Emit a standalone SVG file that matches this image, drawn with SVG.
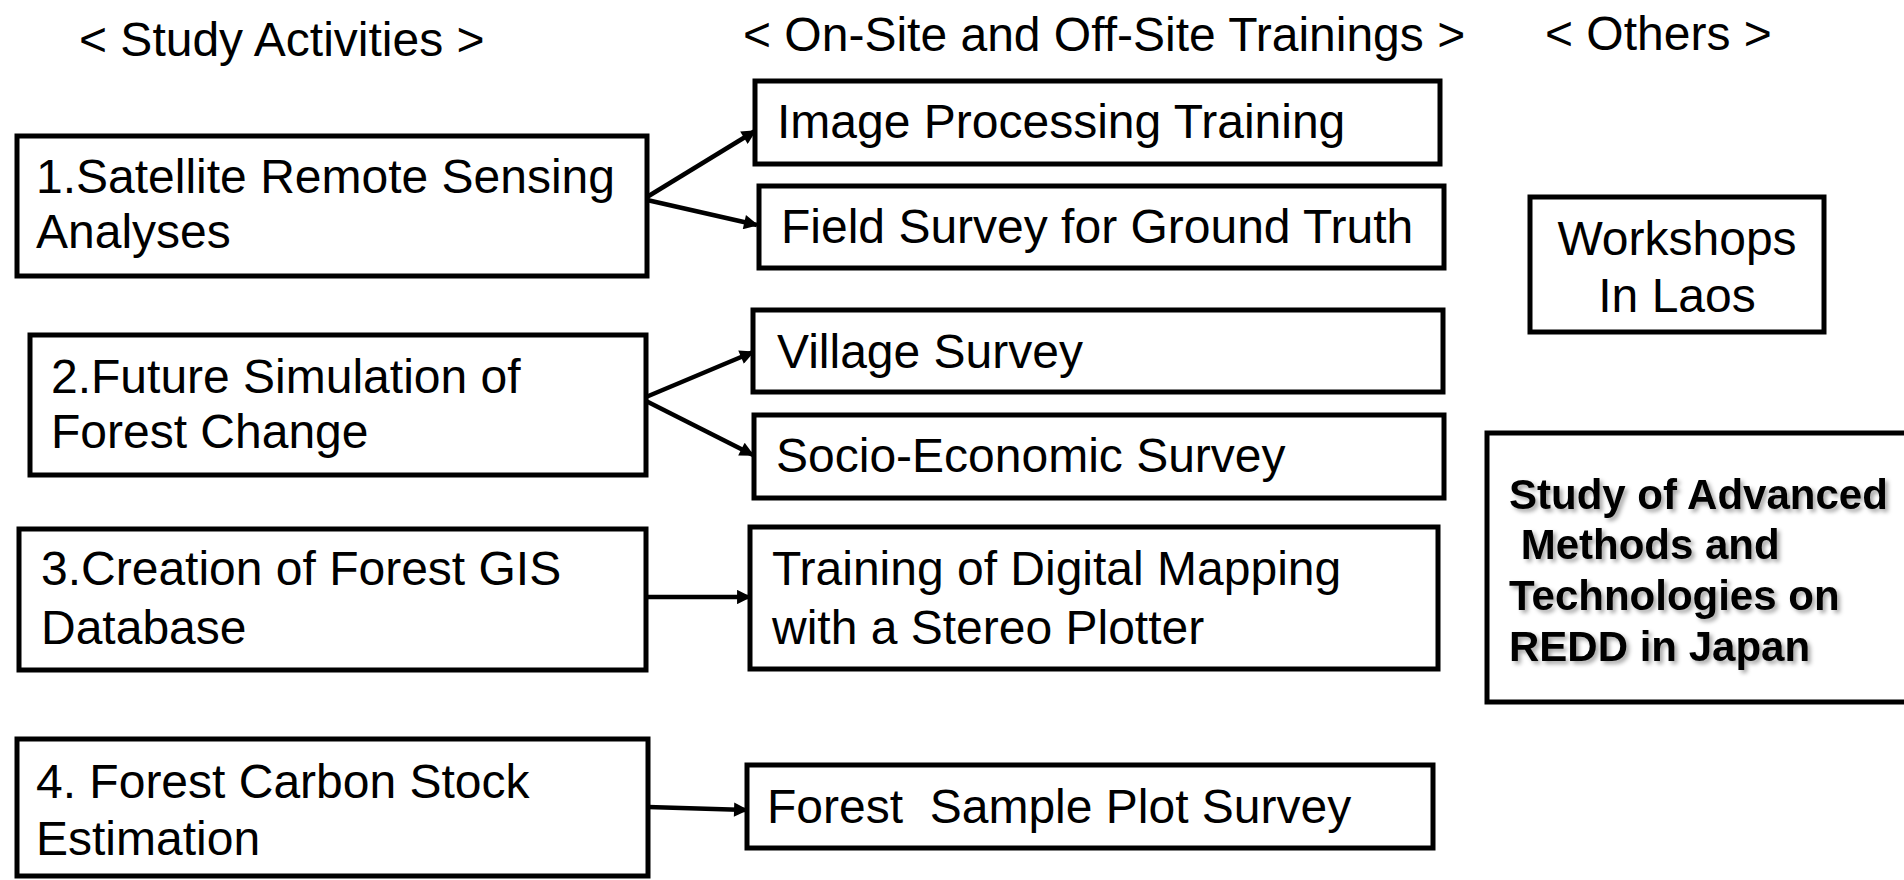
<svg xmlns="http://www.w3.org/2000/svg" width="1904" height="880" viewBox="0 0 1904 880">
<style>
text{font-family:"Liberation Sans",Arial,sans-serif;font-size:48px;fill:#000}
.box{fill:#fff;stroke:#000;stroke-width:5}
.hd{font-size:48px}
.b{font-weight:bold;font-size:42px;filter:url(#sh)}
.c{stroke:#000;stroke-width:4.5;fill:none;marker-end:url(#ah)}
</style>
<defs>
<marker id="ah" viewBox="0 0 10 10" refX="9" refY="5" markerWidth="3.8" markerHeight="3.2" orient="auto" markerUnits="strokeWidth">
<path d="M0,0 L10,5 L0,10 z" fill="#000"/>
</marker>
<filter id="sh" x="-10%" y="-30%" width="130%" height="160%">
<feDropShadow dx="3" dy="3" stdDeviation="2" flood-color="#000" flood-opacity="0.35"/>
</filter>
</defs>
<rect width="1904" height="880" fill="#fff"/>
<g id="headers">
<text class="hd" x="79" y="56">&lt; Study Activities &gt;</text>
<text class="hd" x="743" y="51">&lt; On-Site and Off-Site Trainings &gt;</text>
<text class="hd" x="1545" y="50">&lt; Others &gt;</text>
</g>
<g id="connectors">
<line class="c" x1="647" y1="197" x2="755" y2="131"/>
<line class="c" x1="647" y1="200" x2="757" y2="225"/>
<line class="c" x1="646" y1="397" x2="753" y2="352"/>
<line class="c" x1="646" y1="401" x2="753" y2="455"/>
<line class="c" x1="647" y1="597" x2="750" y2="597"/>
<line class="c" x1="648" y1="807" x2="747" y2="810"/>
</g>
<g id="n1"><rect class="box" x="17" y="136" width="630" height="140"/>
<text x="36" y="193">1.Satellite Remote Sensing</text><text x="36" y="248">Analyses</text></g>
<g id="n2"><rect class="box" x="30" y="335" width="616" height="140"/>
<text x="51" y="393">2.Future Simulation of</text><text x="51" y="448">Forest Change</text></g>
<g id="n3"><rect class="box" x="19" y="529" width="627" height="141"/>
<text x="41" y="585">3.Creation of Forest GIS</text><text x="41" y="644">Database</text></g>
<g id="n4"><rect class="box" x="17" y="739" width="631" height="137"/>
<text x="36" y="798">4. Forest Carbon Stock</text><text x="36" y="855">Estimation</text></g>
<g id="t1"><rect class="box" x="755" y="81" width="685" height="83"/>
<text x="777" y="138">Image Processing Training</text></g>
<g id="t2"><rect class="box" x="759" y="186" width="685" height="82"/>
<text x="781" y="243">Field Survey for Ground Truth</text></g>
<g id="t3"><rect class="box" x="753" y="310" width="690" height="82"/>
<text x="777" y="368">Village Survey</text></g>
<g id="t4"><rect class="box" x="754" y="415" width="690" height="83"/>
<text x="776" y="472">Socio-Economic Survey</text></g>
<g id="t5"><rect class="box" x="750" y="527" width="688" height="142"/>
<text x="772" y="585">Training of Digital Mapping</text><text x="772" y="644">with a Stereo Plotter</text></g>
<g id="t6"><rect class="box" x="747" y="765" width="686" height="83"/>
<text x="767" y="823" xml:space="preserve">Forest  Sample Plot Survey</text></g>
<g id="o1"><rect class="box" x="1530" y="197" width="294" height="135"/>
<text x="1677" y="255" text-anchor="middle">Workshops</text><text x="1677" y="312" text-anchor="middle">In Laos</text></g>
<g id="o2"><rect class="box" x="1487" y="433" width="430" height="269"/>
<text class="b" x="1509" y="509">Study of Advanced</text>
<text class="b" x="1509" y="559" xml:space="preserve"> Methods and</text>
<text class="b" x="1509" y="610">Technologies on</text>
<text class="b" x="1509" y="661">REDD in Japan</text></g>
</svg>
